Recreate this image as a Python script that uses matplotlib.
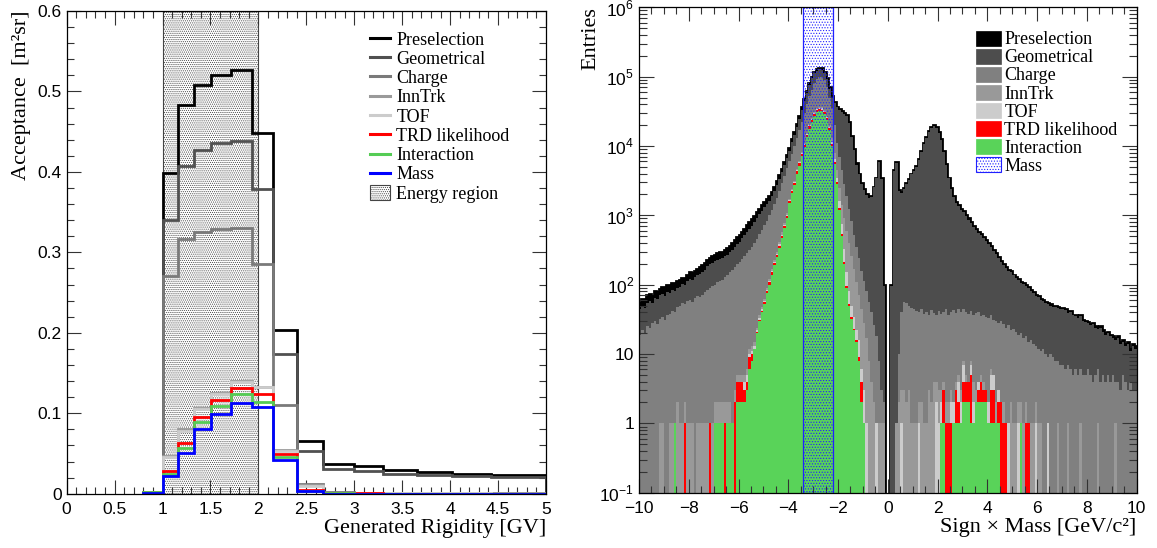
import numpy as np
import matplotlib
matplotlib.use("Agg")
import matplotlib.pyplot as plt
from matplotlib.lines import Line2D
from matplotlib.patches import Patch
from matplotlib.ticker import MultipleLocator, LogLocator, FuncFormatter, NullFormatter

plt.rcParams['font.family'] = ['Liberation Sans', 'DejaVu Sans']
plt.rcParams['mathtext.fontset'] = 'custom'
plt.rcParams['mathtext.rm'] = 'Liberation Sans'
plt.rcParams['hatch.linewidth'] = 0.5
SERIF = ['Liberation Serif', 'DejaVu Serif']

# ---------------- left panel: acceptance vs generated rigidity ----------------
rig_edges = [0.8, 1.0, 1.16, 1.33, 1.51, 1.71, 1.93, 2.15, 2.40, 2.67, 3.0, 3.3, 3.65, 4.02, 4.43, 5.0]
acc_presel = [0.002, 0.398, 0.483, 0.508, 0.520, 0.526, 0.448, 0.204, 0.066, 0.037, 0.034, 0.0296, 0.0265, 0.0248, 0.023]
acc_geom = [0.002, 0.340, 0.407, 0.427, 0.436, 0.438, 0.379, 0.174, 0.0535, 0.031, 0.028, 0.025, 0.023, 0.022, 0.0205]
acc_charge = [0.002, 0.271, 0.316, 0.325, 0.329, 0.330, 0.286, 0.110, 0.012, 0.0015, 0.001, 0.0008, 0.0006, 0.0005, 0.0004]
acc_inntrk = [0.002, 0.0465, 0.080, 0.107, 0.1255, 0.1405, 0.132, 0.054, 0.011, 0.0012, 0.0008, 0.0006, 0.0005, 0.0004, 0.0003]
acc_tof = [0.002, 0.045, 0.078, 0.105, 0.124, 0.139, 0.132, 0.053, 0.009, 0.0011, 0.0006, 0.0005, 0.0004, 0.0003, 0.0002]
acc_trd = [0.0018, 0.0282, 0.0626, 0.0957, 0.1165, 0.131, 0.1235, 0.0493, 0.0043, 0.0010, 0.0003, 0.0002, 0.0001, 0.0001, 0.0001]
acc_inter = [0.0016, 0.025, 0.0564, 0.0895, 0.109, 0.1235, 0.1144, 0.0452, 0.0035, 0.0005, 0.0002, 0.0001, 0.0001, 0.0001, 0.0001]
acc_mass = [0.0014, 0.0217, 0.050, 0.0808, 0.099, 0.113, 0.1074, 0.0419, 0.003, 0.0002, 0.0001, 0.0001, 0.0001, 0.0001, 0.0001]
energy_region = (1.0, 2.0)

# ---------------- right panel: sign x mass, 0.1 wide bins from -10 to 10 ----------------
MASS_LO, MASS_HI, MASS_BIN = -10.0, 10.0, 0.1
mass_window = (-3.4, -2.2)

cnt_presel = [
    55, 62, 58, 70, 74, 68, 82, 78, 88, 92,
    86, 98, 95, 104, 100, 112, 118, 126, 122, 140,
    150, 145, 160, 170, 178, 190, 205, 230, 245, 260,
    270, 285, 295, 300, 320, 340, 365, 400, 440, 480,
    520, 580, 640, 720, 800, 880, 990, 1100, 1250, 1400,
    1550, 1700, 1900, 2200, 2600, 3100, 3800, 4700, 5900, 7400,
    9500, 12500, 16000, 20500, 27000, 36000, 48000, 63000, 82000, 100000,
    118000, 128000, 135000, 132000, 118000, 95000, 70000, 52000, 43000, 37000,
    34000, 32000, 30000, 28000, 22000, 14000, 9000, 5600, 4000, 2900,
    2400, 2000, 1800, 1900, 2600, 3500, 6000, 3400, 100, 0,
    0, 100, 4500, 5900, 2300, 2200, 2500, 2900, 3300, 4000,
    4500, 5200, 6500, 8500, 11000, 13500, 16500, 19000, 20000, 18500,
    16000, 12500, 8500, 5500, 3500, 2500, 1900, 1550, 1400, 1250,
    1150, 1000, 900, 800, 700, 640, 580, 530, 480, 440,
    400, 360, 320, 290, 250, 220, 200, 180, 165, 155,
    140, 130, 122, 110, 105, 100, 92, 85, 78, 70,
    68, 62, 60, 56, 54, 52, 50, 49, 47, 46,
    46, 44, 40, 42, 37, 36, 34, 36, 31, 30,
    29, 27, 28, 25, 24, 25, 22, 20, 21, 19,
    18, 17, 18, 15, 16, 14, 15, 12, 14, 13,
]
cnt_geom = [
    44, 50, 46, 55, 59, 54, 65, 62, 70, 74,
    69, 78, 76, 83, 80, 90, 94, 101, 98, 112,
    120, 116, 128, 136, 142, 152, 164, 184, 196, 208,
    216, 228, 236, 240, 256, 272, 292, 320, 352, 384,
    416, 464, 512, 576, 640, 704, 800, 900, 1030, 1170,
    1310, 1450, 1630, 1900, 2250, 2700, 3330, 4150, 5250, 6600,
    8500, 11300, 14500, 18700, 24700, 33000, 44500, 58500, 77000, 94500,
    112000, 122000, 129000, 126000, 113000, 91000, 67000, 50000, 41500, 36000,
    33000, 31000, 29000, 27000, 21300, 13600, 8700, 5400, 3880, 2800,
    2330, 1940, 1750, 1840, 2520, 3400, 5800, 3300, 95, 0,
    0, 95, 4350, 5700, 2230, 2130, 2420, 2800, 3200, 3880,
    4360, 5050, 6300, 8250, 10700, 13100, 16000, 18400, 19400, 17900,
    15500, 12100, 8250, 5330, 3400, 2420, 1840, 1500, 1360, 1210,
    1120, 970, 870, 775, 680, 620, 560, 515, 465, 425,
    388, 350, 310, 281, 243, 213, 194, 175, 160, 150,
    136, 126, 118, 107, 102, 97, 89, 82, 76, 68,
    66, 60, 58, 54, 52, 50, 48, 47, 46, 45,
    45, 43, 39, 41, 36, 35, 33, 35, 30, 29,
    28, 26, 27, 24, 23, 24, 21, 19, 20, 18,
    17, 16, 17, 14, 15, 13, 14, 11, 13, 12,
]
cnt_charge = [
    19, 22, 20, 25, 24, 28, 30, 27, 32, 34,
    31, 36, 38, 42, 40, 47, 50, 55, 52, 58,
    60, 57, 64, 68, 66, 72, 78, 84, 90, 96,
    100, 108, 112, 118, 128, 140, 150, 165, 180, 200,
    215, 235, 260, 290, 320, 355, 400, 460, 530, 620,
    720, 840, 1000, 1200, 1450, 1800, 2250, 2900, 3700, 4800,
    6000, 7700, 10000, 13000, 17000, 22500, 30000, 40000, 52000, 65000,
    80000, 92000, 100000, 98000, 88000, 70000, 50000, 35000, 20000, 11200,
    7000, 4500, 2800, 1900, 1250, 830, 525, 355, 240, 155,
    112, 80, 56, 40, 26, 18, 8, 3, 2, 0,
    0, 0, 0, 1, 10, 40, 56, 55, 50, 46,
    44, 42, 40, 45, 38, 41, 37, 43, 39, 36,
    42, 38, 40, 44, 37, 41, 43, 39, 45, 41,
    44, 40, 38, 42, 36, 39, 41, 35, 37, 34,
    33, 36, 31, 30, 28, 30, 27, 24, 26, 22,
    23, 21, 19, 20, 17, 18, 15, 16, 14, 13,
    12, 11, 12, 10, 9, 10, 9, 8, 8, 7,
    7, 6, 7, 6, 5, 6, 5, 6, 5, 5,
    6, 5, 4, 5, 6, 4, 5, 4, 5, 4,
    5, 4, 4, 3, 5, 4, 3, 4, 3, 3,
]
cnt_inntrk = [
    0, 0, 0, 0, 0, 0, 0, 0, 1, 1,
    0, 0, 1, 1, 1, 2, 1, 1, 2, 1,
    1, 1, 0, 1, 1, 1, 1, 1, 1, 1,
    2, 2, 2, 2, 2, 2, 2, 1, 3, 5,
    5, 5, 5, 6, 12, 13, 15, 24, 36, 48,
    63, 90, 120, 170, 230, 300, 410, 570, 780, 1080,
    1730, 2400, 3100, 4600, 6000, 8300, 11200, 15300, 20500, 25600,
    31000, 35000, 36800, 36200, 33000, 27000, 20000, 13000, 8000, 4500,
    2500, 1400, 900, 600, 400, 260, 170, 110, 70, 45,
    28, 17, 8, 4, 2, 1, 1, 1, 1, 0,
    0, 0, 0, 1, 2, 3, 3, 2, 3, 1,
    1, 1, 2, 2, 1, 1, 3, 2, 4, 4,
    3, 3, 4, 2, 2, 3, 2, 4, 5, 3,
    8, 5, 4, 8, 4, 3, 4, 5, 4, 3,
    2, 6, 5, 2, 3, 2, 2, 1, 1, 2,
    1, 1, 2, 2, 1, 2, 1, 1, 1, 2,
    1, 1, 0, 0, 1, 0, 0, 0, 1, 0,
    0, 0, 1, 0, 0, 0, 0, 1, 0, 0,
    0, 0, 0, 0, 1, 0, 0, 0, 0, 0,
    0, 1, 0, 0, 0, 0, 0, 0, 0, 0,
]
cnt_tof = [
    0, 0, 0, 0, 0, 0, 0, 0, 0, 0,
    0, 0, 0, 0, 1, 0, 0, 0, 1, 0,
    0, 0, 0, 0, 0, 0, 0, 0, 1, 0,
    1, 1, 1, 1, 1, 1, 1, 1, 2, 4,
    4, 4, 4, 5, 10, 11, 13, 22, 33, 44,
    58, 84, 112, 157, 213, 281, 382, 528, 730, 1010,
    1650, 2330, 3000, 4450, 5800, 8000, 10800, 14800, 19800, 24800,
    30000, 33800, 35300, 34800, 32200, 26600, 19000, 11500, 6500, 3400,
    1600, 750, 330, 150, 80, 50, 34, 22, 16, 6,
    3, 1, 0, 0, 0, 1, 0, 0, 0, 0,
    0, 0, 0, 0, 0, 1, 0, 0, 0, 0,
    0, 0, 1, 0, 0, 0, 0, 0, 0, 2,
    1, 2, 3, 1, 1, 2, 2, 3, 4, 2,
    7, 3, 4, 7, 2, 2, 4, 3, 3, 2,
    2, 5, 5, 1, 3, 2, 1, 1, 1, 0,
    0, 0, 1, 1, 0, 1, 1, 0, 0, 1,
    0, 0, 0, 0, 1, 0, 0, 0, 0, 0,
    0, 0, 0, 0, 0, 0, 0, 0, 0, 0,
    0, 0, 0, 0, 0, 0, 0, 0, 0, 0,
    0, 0, 0, 0, 0, 0, 0, 0, 0, 0,
]
cnt_trd = [
    0, 0, 0, 0, 0, 0, 0, 0, 0, 0,
    0, 0, 0, 0, 1, 0, 0, 0, 1, 0,
    0, 0, 0, 0, 0, 0, 0, 0, 1, 0,
    1, 1, 1, 1, 1, 1, 1, 1, 2, 4,
    4, 4, 3, 4, 9, 10, 12, 21, 31, 42,
    56, 81, 108, 151, 205, 270, 367, 508, 702, 972,
    1600, 2250, 2900, 4300, 5600, 7750, 10400, 14300, 19100, 24000,
    29000, 32500, 34000, 33500, 31000, 25600, 18100, 10700, 5900, 3000,
    1280, 535, 215, 96, 53, 34, 23, 16, 9, 4,
    1, 0, 0, 0, 0, 0, 0, 0, 0, 0,
    0, 0, 0, 0, 0, 0, 0, 0, 0, 0,
    0, 0, 0, 0, 0, 0, 0, 0, 0, 0,
    0, 1, 3, 1, 1, 1, 1, 3, 2, 1,
    4, 4, 4, 5, 1, 1, 3, 4, 3, 3,
    1, 3, 3, 1, 2, 2, 1, 1, 0, 0,
    0, 0, 0, 1, 0, 1, 1, 0, 0, 0,
    0, 0, 0, 0, 0, 0, 0, 0, 0, 0,
    0, 0, 0, 0, 0, 0, 0, 0, 0, 0,
    0, 0, 0, 0, 0, 0, 0, 0, 0, 0,
    0, 0, 0, 0, 0, 0, 0, 0, 0, 0,
]
cnt_inter = [
    0, 0, 0, 0, 0, 0, 0, 0, 0, 0,
    0, 0, 0, 0, 1, 0, 0, 0, 0, 0,
    0, 0, 0, 0, 0, 0, 0, 0, 0, 0,
    1, 1, 1, 1, 0, 1, 1, 1, 0, 2,
    2, 2, 2, 3, 6, 8, 12, 20, 30, 40,
    52, 75, 100, 140, 190, 250, 340, 470, 650, 900,
    1500, 2100, 2700, 4000, 5200, 7200, 9700, 13300, 17800, 22300,
    27000, 30500, 32000, 31500, 29000, 24000, 17000, 10000, 5500, 2800,
    1200, 500, 200, 90, 50, 32, 22, 15, 8, 2,
    1, 0, 0, 0, 0, 0, 0, 0, 0, 0,
    0, 0, 0, 0, 0, 0, 0, 0, 0, 0,
    0, 0, 0, 0, 0, 0, 0, 0, 0, 0,
    0, 1, 1, 0, 0, 0, 1, 1, 1, 1,
    2, 2, 2, 1, 1, 2, 2, 2, 2, 2,
    1, 1, 1, 1, 1, 0, 0, 0, 0, 0,
    0, 0, 0, 1, 0, 0, 0, 0, 0, 0,
    0, 0, 0, 0, 0, 0, 0, 0, 0, 0,
    0, 0, 0, 0, 0, 0, 0, 0, 0, 0,
    0, 0, 0, 0, 0, 0, 0, 0, 0, 0,
    0, 0, 0, 0, 0, 0, 0, 0, 0, 0,
]

labels = ["Preselection", "Geometrical", "Charge", "InnTrk", "TOF",
          "TRD likelihood", "Interaction", "Mass"]
line_colors = ["black", "#505050", "#7a7a7a", "#9a9a9a", "#cccccc", "#ff0000", "#55cc55", "#0000ff"]
fill_colors = ["black", "#4d4d4d", "#808080", "#999999", "#cccccc", "#ff0000", "#59d359"]
DOTS_GRAY = "........"
DOTS_BLUE = "......"


def minus(s):
    return s.replace("-", "\u2212")


def style_axis(ax):
    ax.tick_params(which="both", direction="in", top=True, right=True,
                   labelsize=12.5, width=0.8, color="#333333")
    ax.tick_params(which="major", length=10)
    ax.tick_params(which="minor", length=5)
    ax.tick_params(axis="x", pad=6)
    for s in ax.spines.values():
        s.set_linewidth(0.9)


def log_label(v, p):
    e = int(round(np.log10(v)))
    if e == 0:
        return "1"
    if e == 1:
        return "10"
    return r"$10^{%d}$" % e


fig = plt.figure(figsize=(11.57, 5.48), dpi=100)

# ---------------- left ----------------
axL = fig.add_axes([0.0576, 0.0991, 0.4143, 0.8809])
axL.axvspan(energy_region[0], energy_region[1], facecolor="white", edgecolor="#444444",
            hatch=DOTS_GRAY, lw=0.8, zorder=0.5)
series_L = [acc_presel, acc_geom, acc_charge, acc_inntrk, acc_tof, acc_trd, acc_inter, acc_mass]
for vals, col in zip(series_L, line_colors):
    axL.stairs(vals, rig_edges, baseline=0, color=col, lw=2.0, zorder=2)

axL.set_xlim(0, 5)
axL.set_ylim(0, 0.6)
axL.xaxis.set_major_locator(MultipleLocator(0.5))
axL.xaxis.set_minor_locator(MultipleLocator(0.1))
axL.yaxis.set_major_locator(MultipleLocator(0.1))
axL.yaxis.set_minor_locator(MultipleLocator(0.02))
fmt = FuncFormatter(lambda v, p: minus("%g" % round(v, 6)))
axL.xaxis.set_major_formatter(fmt)
axL.yaxis.set_major_formatter(fmt)
style_axis(axL)
axL.set_xlabel("Generated Rigidity [GV]", family=SERIF, fontsize=16, loc="right")
axL.set_ylabel("Acceptance  [m\u00b2sr]", family=SERIF, fontsize=16, loc="top")
axL.xaxis.set_label_coords(1.0, -0.052)
axL.yaxis.set_label_coords(-0.075, 1.0)

hL = [Line2D([], [], color=c, lw=2.2) for c in line_colors]
hL.append(Patch(facecolor="white", edgecolor="#444444", hatch=DOTS_GRAY, lw=0.8))
axL.legend(hL, labels + ["Energy region"], loc="upper left", bbox_to_anchor=(0.633, 0.958),
           frameon=False, prop={"family": SERIF, "size": 13}, handlelength=1.1,
           handleheight=0.85, handletextpad=0.35, labelspacing=0.1, borderpad=0.0,
           borderaxespad=0.0)

# ---------------- right ----------------
axR = fig.add_axes([0.5523, 0.1009, 0.4300, 0.8858])
mass_edges = np.linspace(MASS_LO, MASS_HI, int(round((MASS_HI - MASS_LO) / MASS_BIN)) + 1)
FLOOR = 1e-3
series_R = [cnt_presel, cnt_geom, cnt_charge, cnt_inntrk, cnt_tof, cnt_trd, cnt_inter]
for k, (vals, col) in enumerate(zip(series_R, fill_colors)):
    v = np.asarray(vals, dtype=float)
    v = np.where(v > 0, v, FLOOR)
    if k == 0:
        axR.stairs(v, mass_edges, baseline=FLOOR, fill=True, facecolor=col,
                   edgecolor="black", lw=2.0, zorder=1)
    else:
        axR.stairs(v, mass_edges, baseline=FLOOR, fill=True, facecolor=col,
                   edgecolor="none", lw=0, zorder=1 + k * 0.01)
axR.axvspan(mass_window[0], mass_window[1], facecolor="none", edgecolor="#2020ff",
            hatch=DOTS_BLUE, lw=0.9, zorder=2)

axR.set_yscale("log")
axR.set_xlim(MASS_LO, MASS_HI)
axR.set_ylim(0.1, 1e6)
axR.xaxis.set_major_locator(MultipleLocator(2))
axR.xaxis.set_minor_locator(MultipleLocator(0.5))
axR.xaxis.set_major_formatter(FuncFormatter(lambda v, p: minus("%g" % round(v, 6))))
axR.yaxis.set_major_locator(LogLocator(base=10, numticks=12))
axR.yaxis.set_minor_locator(LogLocator(base=10, subs=np.arange(2, 10), numticks=12))
axR.yaxis.set_minor_formatter(NullFormatter())
axR.yaxis.set_major_formatter(FuncFormatter(log_label))
style_axis(axR)
axR.tick_params(axis="y", which="major", length=11)
axR.tick_params(axis="y", which="minor", length=6)
axR.set_xlabel("Sign \u00d7 Mass [GeV/c\u00b2]", family=SERIF, fontsize=16, loc="right")
axR.set_ylabel("Entries", family=SERIF, fontsize=16, loc="top")
axR.xaxis.set_label_coords(1.0, -0.052)
axR.yaxis.set_label_coords(-0.077, 1.0)

hR = [Patch(facecolor=c, edgecolor=c, lw=0.5) for c in fill_colors]
hR.append(Patch(facecolor="white", edgecolor="#2020ff", hatch=DOTS_BLUE, lw=0.8))
axR.legend(hR, labels, loc="upper left", bbox_to_anchor=(0.678, 0.952),
           frameon=False, prop={"family": SERIF, "size": 13}, handlelength=1.35,
           handleheight=0.9, handletextpad=0.2, labelspacing=0.02, borderpad=0.0,
           borderaxespad=0.0)

fig.savefig("out.png", dpi=100)
